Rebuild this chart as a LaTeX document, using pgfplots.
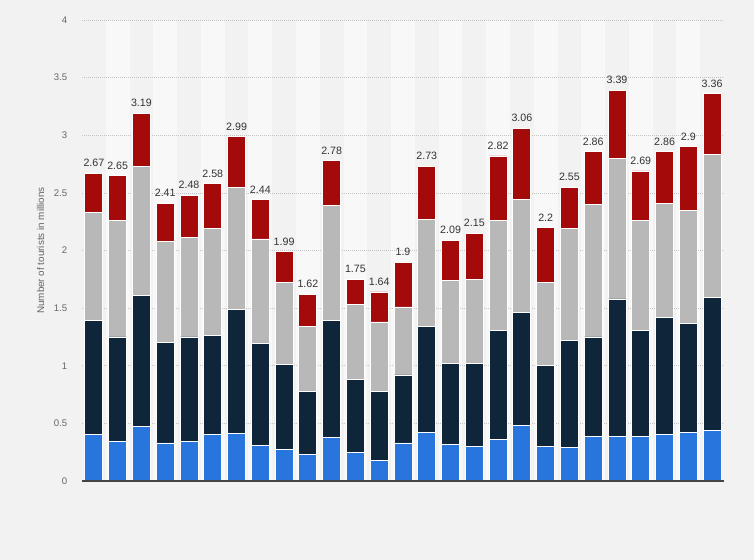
\documentclass[border=0pt]{standalone}
\usepackage{pgfplots}
\pgfplotsset{compat=1.18}
\usepackage{pgfplotstable}
\usepackage{fontspec}
\setmainfont{Liberation Sans}
\definecolor{bg}{HTML}{F2F2F2}
\definecolor{stripe}{HTML}{F8F8F8}
\definecolor{cblue}{HTML}{2876DD}
\definecolor{cnavy}{HTML}{0F253A}
\definecolor{cgray}{HTML}{B8B8B8}
\definecolor{cred}{HTML}{A50A0A}
\definecolor{tickc}{HTML}{666666}
\definecolor{labelc}{HTML}{333333}
\definecolor{gridc}{HTML}{C4C4C4}
\definecolor{axisc}{HTML}{444444}
\pgfplotstableread{
x blue navy gray red total
0 0.40 0.99 0.94 0.34 2.67
1 0.34 0.91 1.01 0.39 2.65
2 0.47 1.14 1.12 0.46 3.19
3 0.33 0.87 0.88 0.33 2.41
4 0.34 0.91 0.86 0.37 2.48
5 0.40 0.86 0.93 0.39 2.58
6 0.41 1.08 1.06 0.44 2.99
7 0.31 0.88 0.91 0.34 2.44
8 0.27 0.74 0.71 0.27 1.99
9 0.23 0.55 0.56 0.28 1.62
10 0.38 1.01 1.00 0.39 2.78
11 0.25 0.63 0.65 0.22 1.75
12 0.18 0.60 0.60 0.26 1.64
13 0.33 0.59 0.59 0.39 1.9
14 0.42 0.92 0.93 0.46 2.73
15 0.32 0.70 0.72 0.35 2.09
16 0.30 0.72 0.73 0.40 2.15
17 0.36 0.95 0.95 0.56 2.82
18 0.48 0.98 0.98 0.62 3.06
19 0.30 0.70 0.72 0.48 2.2
20 0.29 0.93 0.97 0.36 2.55
21 0.39 0.86 1.15 0.46 2.86
22 0.39 1.19 1.22 0.59 3.39
23 0.39 0.92 0.95 0.43 2.69
24 0.40 1.02 0.99 0.45 2.86
25 0.42 0.95 0.98 0.55 2.9
26 0.44 1.15 1.24 0.53 3.36
}\data
\begin{document}
\begin{tikzpicture}
\fill[bg] (0,0) rectangle (565.5pt,420pt);
\foreach \i in {1,3,...,25}
  \fill[stripe] ({61.5pt+\i*17.8333pt},59.25pt) rectangle ++(17.8333pt,345.75pt);
\begin{axis}[
  at={(61.5pt,59.25pt)}, anchor=south west,
  scale only axis, width=481.5pt, height=345.75pt,
  ybar stacked, bar width=13.5pt,
  xmin=-0.5, xmax=26.5, ymin=0, ymax=4,
  ytick={0,0.5,1,1.5,2,2.5,3,3.5,4},
  xtick=\empty,
  separate axis lines,
  axis x line=bottom, axis y line=left,
  x axis line style={draw=none},
  y axis line style={draw=none},
  ytick style={draw=none},
  ymajorgrids,
  grid style={color=gridc, dash pattern=on 0.6pt off 0.9pt, line width=0.5pt},
  /pgf/number format/assume math mode=true,
  yticklabel style={font=\fontsize{7.2}{8}\selectfont, text=tickc, xshift=-5.5pt},
  ylabel={Number of tourists in millions},
  ylabel style={at={(axis description cs:-0.0646,0.5)}, anchor=center, font=\fontsize{7.4}{8}\selectfont, text=tickc},
]
\addplot[fill=cblue, draw=white, line width=0.6pt] table[x=x,y=blue]{\data};
\addplot[fill=cnavy, draw=white, line width=0.6pt] table[x=x,y=navy]{\data};
\addplot[fill=cgray, draw=white, line width=0.6pt] table[x=x,y=gray]{\data};
\addplot[fill=cred, draw=white, line width=0.6pt] table[x=x,y=red]{\data};
\end{axis}
\begin{axis}[
  at={(61.5pt,59.25pt)}, anchor=south west,
  scale only axis, width=481.5pt, height=345.75pt,
  xmin=-0.5, xmax=26.5, ymin=0, ymax=4,
  clip=false,
  separate axis lines,
  axis x line=bottom, axis y line=none,
  x axis line style={-, color=axisc, line width=1pt},
  xtick=\empty, ytick=\empty,
  /pgf/number format/assume math mode=true,
]
\addplot[draw=none, mark=none, nodes near coords, point meta=y,
  every node near coord/.style={font=\fontsize{8}{9}\selectfont, text=labelc, anchor=south, inner sep=0pt, yshift=4.5pt}]
  table[x=x,y=total]{\data};
\end{axis}
\end{tikzpicture}
\end{document}
